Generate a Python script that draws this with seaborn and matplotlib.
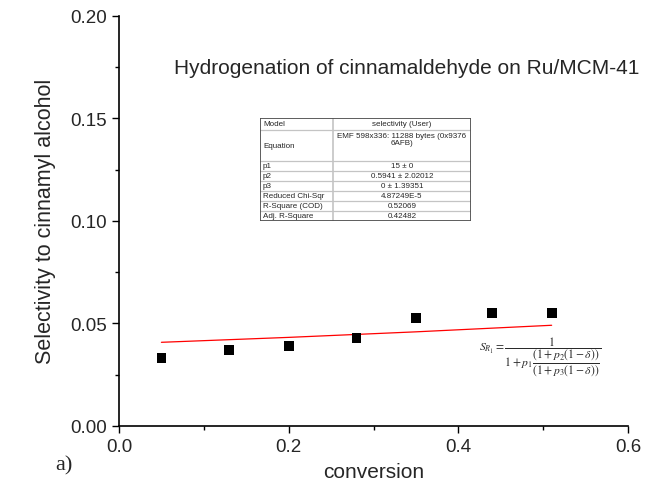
import matplotlib
matplotlib.use("Agg")
import matplotlib.pyplot as plt
import seaborn as sns
import pandas as pd
from matplotlib.ticker import FixedLocator, AutoMinorLocator, FormatStrFormatter

# ---- data ----
conversion = [0.05, 0.13, 0.20, 0.28, 0.35, 0.44, 0.51]
selectivity = [0.0331, 0.0370, 0.0390, 0.0429, 0.0525, 0.0550, 0.0551]
fit_conversion = [0.05, 0.20, 0.35, 0.51]
fit_selectivity = [0.0408, 0.0432, 0.0459, 0.0491]
x_ticks = [0.0, 0.2, 0.4, 0.6]
y_ticks = [0.00, 0.05, 0.10, 0.15, 0.20]
table_labels = ["Model", "Equation", "p1", "p2", "p3", "Reduced Chi-Sqr",
                "R-Square (COD)", "Adj. R-Square"]
table_values = ["selectivity (User)", "EMF 598x336: 11288 bytes (0x9376\n6AFB)",
                "15 \u00b1 0", "0.5941 \u00b1 2.02012", "0 \u00b1 1.39351",
                "4.87249E-5", "0.52069", "0.42482"]
table_row_heights = [12, 31, 10, 10, 10, 10, 10, 10]

title = "Hydrogenation of cinnamaldehyde on Ru/MCM-41"
equation = (r"$S_{R_1}=\dfrac{1}{1+p_1\dfrac{(1+p_2(1-\delta))}"
            r"{(1+p_3(1-\delta))}}$")

sns.set_style("ticks")
plt.rcParams['font.family'] = ['Liberation Sans', 'DejaVu Sans']
plt.rcParams['mathtext.fontset'] = 'stix'

W, H = 649, 489
fig = plt.figure(figsize=(W / 100, H / 100), dpi=100)
ax = fig.add_axes([119 / W, 1 - 427 / H, (628 - 119) / W, (427 - 16.7) / H])

df = pd.DataFrame({"conversion": conversion, "selectivity": selectivity})
fit_df = pd.DataFrame({"conversion": fit_conversion, "selectivity": fit_selectivity})

sns.lineplot(data=fit_df, x="conversion", y="selectivity", ax=ax,
             color="#ff0000", linewidth=0.9)
sns.scatterplot(data=df, x="conversion", y="selectivity", ax=ax,
                marker="s", s=50, color="black", edgecolor="none", zorder=3)

ax.set_xlim(0, 0.6)
ax.set_ylim(0, 0.2)
ax.xaxis.set_major_locator(FixedLocator(x_ticks))
ax.yaxis.set_major_locator(FixedLocator(y_ticks))
ax.xaxis.set_minor_locator(AutoMinorLocator(2))
ax.yaxis.set_minor_locator(AutoMinorLocator(2))
ax.xaxis.set_major_formatter(FormatStrFormatter("%.1f"))
ax.yaxis.set_major_formatter(FormatStrFormatter("%.2f"))
sns.despine(ax=ax)
for sp in ("left", "bottom"):
    ax.spines[sp].set_linewidth(1.2)
    ax.spines[sp].set_color("black")
ax.tick_params(which="major", direction="out", length=5, width=1.0,
               labelsize=13.5, color="black", pad=3.5)
ax.tick_params(which="minor", direction="out", length=3, width=1.0, color="black")

ax.set_xlabel("conversion", fontsize=15)
ax.set_ylabel("Selectivity to cinnamyl alcohol", fontsize=15.5)
ax.xaxis.label.set_va("center")
ax.xaxis.set_label_coords(0.5, -(473 - 427) / 410.3)
ax.yaxis.label.set_va("center")
ax.yaxis.set_label_coords((45 - 119) / 509, 0.5)

fig.text(407 / W, 1 - 68 / H, title, ha="center", va="center", fontsize=15)
fig.text(55 / W, 1 - 466 / H, "a)", ha="left", va="center", fontsize=16,
         family=["Liberation Serif", "DejaVu Serif"])
fig.text(479 / W, 1 - 357 / H, equation, ha="left", va="center", fontsize=8.4,
         color="#2a2a2a")

# ---- results table ----
tw, th = 211, sum(table_row_heights)
tab = fig.add_axes([260 / W, 1 - 222 / H, tw / W, th / H])
tab.set_xlim(0, tw)
tab.set_ylim(th, 0)
tab.axis("off")
col = 73
y0 = 0
for i, (lab, val, rh) in enumerate(zip(table_labels, table_values, table_row_heights)):
    if i > 0:
        tab.plot([0, tw], [y0, y0], color="#c4c4c4", lw=0.9, solid_capstyle="butt")
    if lab == "Equation":
        tab.text(3, y0 + rh / 2, lab, fontsize=5.8, va="center", ha="left")
        tab.text((col + tw) / 2, y0 + 1.5, val, fontsize=5.8, va="top", ha="center",
                 linespacing=1.1)
    else:
        tab.text(3, y0 + rh / 2, lab, fontsize=5.8, va="center", ha="left")
        tab.text((col + tw) / 2, y0 + rh / 2, val, fontsize=5.8, va="center", ha="center")
    y0 += rh
tab.plot([col, col], [0, th], color="#c4c4c4", lw=1.2)
tab.plot([0, tw, tw, 0, 0], [0, 0, th, th, 0], color="#505050", lw=1.3)

fig.savefig("out.png", dpi=100)
